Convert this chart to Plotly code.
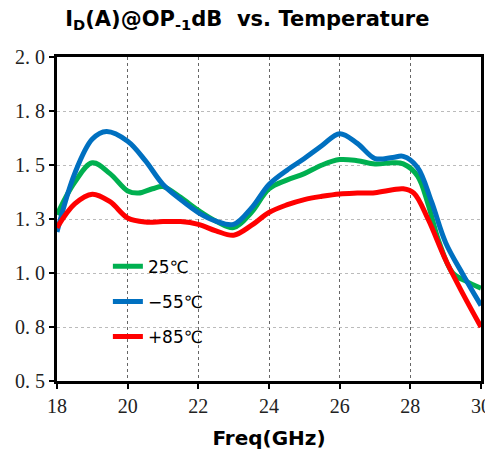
import plotly.graph_objects as go

# Data
freq_25 = [18, 18.5, 19, 19.5, 20, 20.3, 20.7, 21, 21.5, 22, 22.5, 23, 23.5, 24, 24.5, 25, 25.5, 26, 26.5, 27, 27.5, 27.8, 28.2, 28.5, 28.8, 29.2, 29.6, 30]
id_25 = [1.27, 1.42, 1.51, 1.46, 1.38, 1.37, 1.39, 1.40, 1.35, 1.29, 1.24, 1.21, 1.28, 1.39, 1.43, 1.46, 1.50, 1.525, 1.52, 1.505, 1.51, 1.505, 1.45, 1.32, 1.15, 1.00, 0.96, 0.93]

freq_m55 = [18, 18.5, 19, 19.4, 20, 20.5, 21, 21.5, 22, 22.5, 23, 23.5, 24, 24.5, 25, 25.5, 26, 26.5, 27, 27.5, 27.8, 28.2, 28.6, 29, 29.5, 30]
id_m55 = [1.19, 1.46, 1.62, 1.655, 1.61, 1.52, 1.41, 1.34, 1.28, 1.24, 1.225, 1.30, 1.41, 1.475, 1.53, 1.59, 1.645, 1.60, 1.53, 1.535, 1.54, 1.49, 1.33, 1.14, 0.99, 0.85]

freq_85 = [18, 18.5, 19, 19.5, 20, 20.5, 21, 21.5, 22, 22.5, 23, 23.5, 24, 24.5, 25, 25.5, 26, 26.5, 27, 27.5, 27.8, 28.1, 28.5, 29, 29.5, 30]
id_85 = [1.21, 1.32, 1.365, 1.33, 1.255, 1.236, 1.238, 1.238, 1.225, 1.195, 1.175, 1.22, 1.28, 1.315, 1.34, 1.355, 1.366, 1.37, 1.372, 1.385, 1.39, 1.37, 1.25, 1.06, 0.90, 0.75]

y_tickvals = [0.5, 0.75, 1.0, 1.25, 1.5, 1.75, 2.0]
y_ticktext = ["0. 5", "0. 8", "1. 0", "1. 3", "1. 5", "1. 8", "2. 0"]
x_tickvals = [18, 20, 22, 24, 26, 28, 30]

series = [
    ("25℃", freq_25, id_25, "#00B050"),
    ("−55℃", freq_m55, id_m55, "#0070C0"),
    ("+85℃", freq_85, id_85, "#FF0000"),
]

fig = go.Figure()
for name, xs, ys, col in series:
    fig.add_trace(go.Scatter(
        x=xs, y=ys, name=name, mode="lines", legendgroup=name,
        line=dict(color=col, width=5, shape="spline", smoothing=1.0),
    ))

tick_font = dict(family="Liberation Serif", size=20, color="#222")

fig.update_layout(
    width=485, height=455,
    margin=dict(l=57, r=4, t=57, b=74),
    paper_bgcolor="white", plot_bgcolor="white",
    title=dict(
        text="<b>I<sub>D</sub>(A)@OP<sub>-1</sub>dB  vs. Temperature</b>",
        x=0.51, xanchor="center", y=0.96, yanchor="middle",
        font=dict(family="DejaVu Sans", size=21, color="black"),
    ),
    showlegend=True,
    legend=dict(
        x=0.12, y=0.408, xanchor="left", yanchor="top",
        bgcolor="rgba(0,0,0,0)", tracegroupgap=10,
        font=dict(family="DejaVu Sans", size=17, color="black"),
    ),
    xaxis=dict(
        range=[18, 30], tickvals=x_tickvals, tickfont=tick_font,
        automargin=False, ticklabeloverflow="allow",
        showline=True, linecolor="black", linewidth=3, mirror=True,
        ticks="outside", ticklen=5, tickwidth=2, tickcolor="black",
        showgrid=True, gridcolor="#666", gridwidth=1, griddash="dot",
        zeroline=False,
        title=dict(text="<b>Freq(GHz)</b>", font=dict(family="DejaVu Sans", size=20, color="black"), standoff=15),
    ),
    yaxis=dict(
        range=[0.5, 2.0], tickvals=y_tickvals, ticktext=y_ticktext, tickfont=tick_font,
        automargin=False, ticklabeloverflow="allow",
        showline=True, linecolor="black", linewidth=3, mirror=True,
        ticks="outside", ticklen=5, tickwidth=2, tickcolor="black",
        showgrid=True, gridcolor="#bbb", gridwidth=1, griddash="dot",
        zeroline=False,
    ),
)

fig.write_html(
    "out.html",
    config={"responsive": False, "displayModeBar": False},
    post_script="document.body.style.margin='0';document.body.style.overflow='hidden';",
)
